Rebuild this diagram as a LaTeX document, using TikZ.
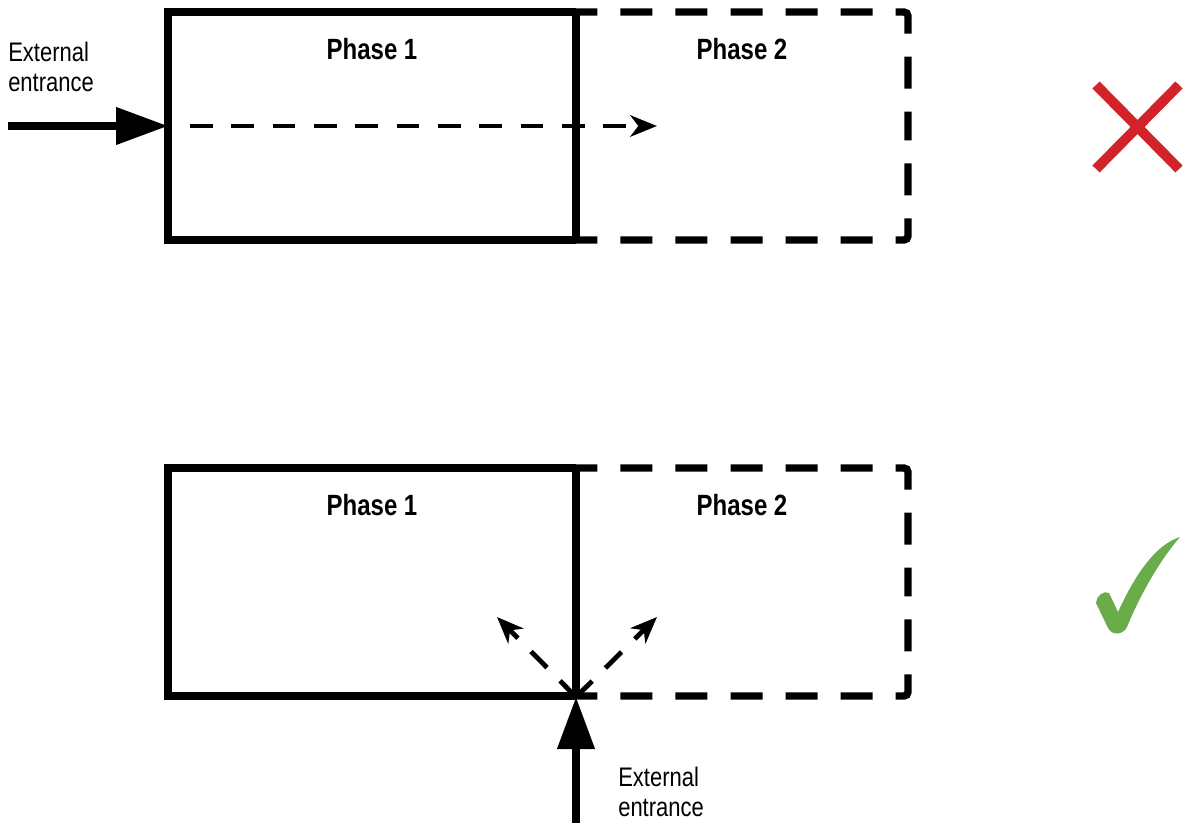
\documentclass[tikz,border=0pt]{standalone}
\usepackage{fontspec}
\setmainfont{Liberation Sans}
\usetikzlibrary{arrows.meta}
\definecolor{wrongred}{RGB}{210,35,42}
\definecolor{rightgreen}{RGB}{106,171,74}
\newcommand{\tallt}[1]{\scalebox{1}[1.22]{#1}}
\begin{document}
\begin{tikzpicture}[x=0.75pt,y=-0.75pt,
    wall/.style={line width=5.5pt},
    later/.style={line width=5.5pt,dash pattern=on 24pt off 17.3pt,dash phase=8pt,rounded corners=3pt},
    entry/.style={line width=5.5pt,-{Triangle[length=39pt,width=27pt]}},
    flow/.style={line width=3.6pt,dash pattern=on 17pt off 14pt,-{Stealth[length=20pt,width=16pt,inset=6pt]}},
    phase/.style={font=\bfseries\fontsize{18}{20}\selectfont},
    note/.style={font=\fontsize{16.5}{22.5}\selectfont,align=left,inner sep=0pt,anchor=north west}]
    \useasboundingbox (0,0) rectangle (1184,823);
    % the two layouts, one above the other
    \foreach \oy/\nm in {0/up,456/low}{
        \draw[wall] (576,12+\oy) -- (168,12+\oy) -- (168,240+\oy) -- (576,240+\oy);
        \draw[wall] (576,12+\oy) -- (576,240+\oy);
        \draw[later] (576,12+\oy) -- (908,12+\oy) -- (908,126+\oy);
        \draw[later] (576,240+\oy) -- (908,240+\oy) -- (908,126+\oy);
        \node[phase] (\nm-one) at (372,49+\oy) {\tallt{Phase 1}};
        \node[phase] (\nm-two) at (742,49+\oy) {\tallt{Phase 2}};
    }
    % entrance through phase 1
    \coordinate (up-out) at (8,126);
    \coordinate (up-door) at (168,126);
    \coordinate (up-start) at (190,126);
    \coordinate (up-go) at (657,126);
    \draw[entry] (up-out) -- (up-door);
    \draw[flow] (up-start) -- (up-go);
    \node[note] (up-txt) at (8,42) {\tallt{External}\\\tallt{entrance}};
    % entrance between the phases
    \coordinate (low-out) at (576,823);
    \coordinate (low-gate) at (576,697);
    \coordinate (low-back) at (497,617);
    \coordinate (low-fwd) at (657,617);
    \draw[entry] (low-out) -- (low-gate);
    \draw[flow] (low-gate) -- (low-back);
    \draw[flow] (low-gate) -- (low-fwd);
    \node[note] (low-txt) at (618,767) {\tallt{External}\\\tallt{entrance}};
    % marks
    \draw[wrongred,line width=7.5pt] (1096,85) -- (1179,169);
    \draw[wrongred,line width=7.5pt] (1179,85) -- (1096,169);
    \fill[rightgreen] (1096,603) .. controls (1096,596) and (1104,590) .. (1109,593)
        -- (1118,612) .. controls (1135,575) and (1155,545) .. (1180,537)
        .. controls (1160,560) and (1140,595) .. (1127,627)
        .. controls (1123,635) and (1112,636) .. (1108,628) -- cycle;
\end{tikzpicture}
\end{document}
